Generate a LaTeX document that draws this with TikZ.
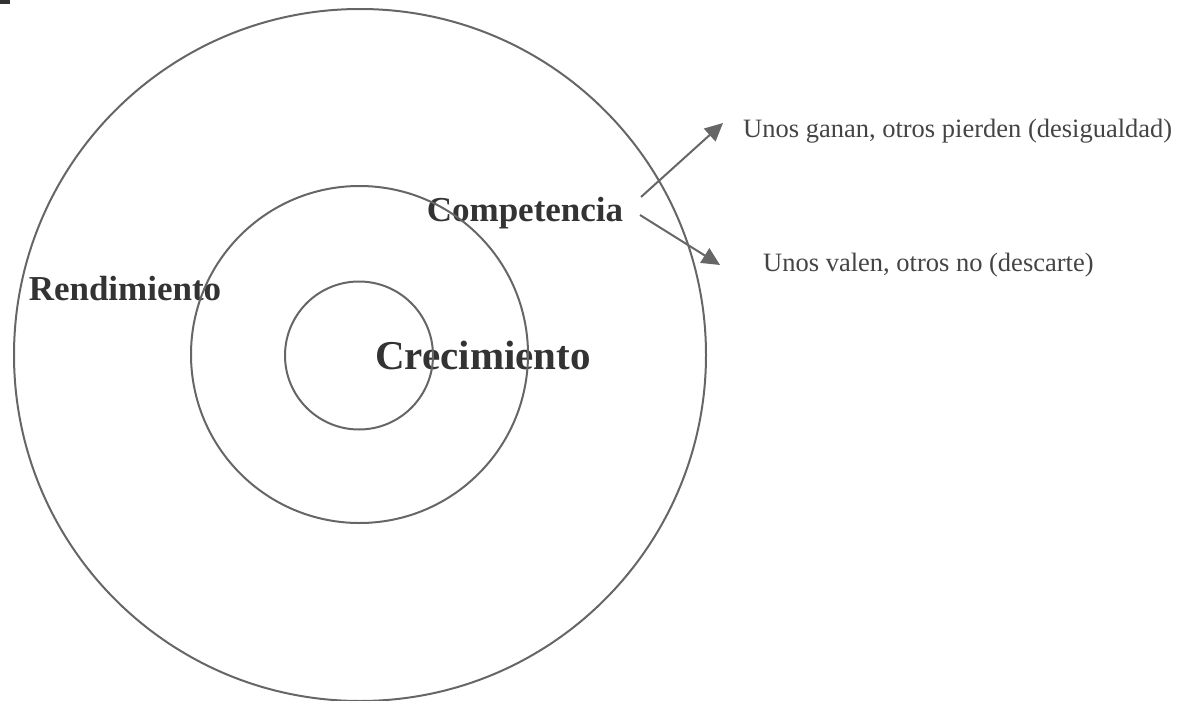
\documentclass[tikz,border=0pt]{standalone}
\usepackage{fontspec}
\setmainfont{Liberation Serif}
\usetikzlibrary{arrows.meta}
\definecolor{linegray}{HTML}{666666}
\definecolor{labeldark}{HTML}{333333}
\definecolor{textgray}{HTML}{444444}
\tikzset{
  ring/.style={circle, draw=linegray, line width=2pt, inner sep=0pt, minimum size=#1},
  biglabel/.style={anchor=base, text=labeldark, font=\bfseries\fontsize{35}{40}\selectfont, inner sep=0pt},
  note/.style={anchor=base west, text=textgray, font=\fontsize{26.5}{30}\selectfont, inner sep=0pt},
  arr/.style={draw=linegray, line width=2pt, -{Triangle[length=18pt,width=17pt]}}
}
\begin{document}
\begin{tikzpicture}[x=1pt,y=-1pt]
\useasboundingbox (0,0) rectangle (1181,701);
\fill[labeldark] (0,0) rectangle (10,4);
% labels (below the rings)
\node[biglabel] (comp) at (525,221) {Competencia};
\node[biglabel] (rend) at (125,300) {Rendimiento};
\node[biglabel, font=\bfseries\fontsize{41}{46}\selectfont] (crec) at (483,369) {Crecimiento};
\node[note] (gan) at (743,137) {Unos ganan, otros pierden (desigualdad)};
\node[note] (val) at (763,271) {Unos valen, otros no (descarte)};
% rings
\node[ring=692pt] (outer) at (360,355) {};
\node[ring=337pt] (middle) at (359.5,354.5) {};
\node[ring=148pt] (inner) at (359,355.5) {};
% arrows
\coordinate (a1s) at (641,197);
\coordinate (a1e) at (723,123);
\coordinate (a2s) at (640,215);
\coordinate (a2e) at (720,265);
\draw[arr] (a1s) -- (a1e);
\draw[arr] (a2s) -- (a2e);
\end{tikzpicture}
\end{document}
